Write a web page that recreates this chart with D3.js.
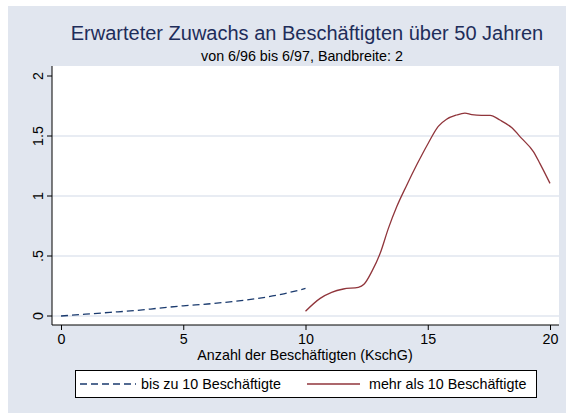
<!DOCTYPE html>
<html>
<head>
<meta charset="utf-8">
<script src="https://cdn.jsdelivr.net/npm/d3@7"></script>
<style>
  body { margin: 0; background: #fff; }
  text { font-family: "Liberation Sans", Arial, sans-serif; }
</style>
</head>
<body>
<svg id="chart"></svg>
<script>
// dashed series: up to 10 employees
const xLow = [0, 1, 2, 3, 4, 5, 6, 7, 8, 9, 10];
const yLow = [0, 0.015, 0.03, 0.045, 0.065, 0.085, 0.1, 0.12, 0.145, 0.18, 0.23];

// solid series: more than 10 employees
const xHigh = [10, 10.6, 11.07, 11.55, 12.16, 12.39, 12.71, 13.05, 13.39, 13.73, 14.14, 14.55,
  15.02, 15.43, 15.77, 16.18, 16.52, 16.8, 17.2, 17.55, 17.95, 18.43, 18.84, 19.32, 19.59, 20];
const yHigh = [0.04, 0.147, 0.197, 0.225, 0.239, 0.264, 0.37, 0.52, 0.73, 0.91, 1.09, 1.26,
  1.44, 1.58, 1.64, 1.675, 1.69, 1.678, 1.672, 1.672, 1.633, 1.57, 1.48, 1.37, 1.27, 1.105];

const xTicks = [0, 5, 10, 15, 20];
const yTicks = [0, 0.5, 1, 1.5, 2];
const yTickLabels = ["0", ".5", "1", "1.5", "2"];
const gridVals = [0, 0.5, 1, 1.5];

const seriesNames = ["bis zu 10 Beschäftigte", "mehr als 10 Beschäftigte"];
const titleText = "Erwarteter Zuwachs an Beschäftigten über 50 Jahren";
const subtitleText = "von 6/96 bis 6/97, Bandbreite: 2";
const xTitle = "Anzahl der Beschäftigten (KschG)";

const W = 566, H = 414;
const bg = "#e1e6ef";
const navy = "#1a3a6e";
const maroon = "#90353b";
const fs = 14.3;

const svg = d3.select("#chart").attr("width", W).attr("height", H);

// graph region
svg.append("rect").attr("x", 8).attr("y", 6).attr("width", W - 8).attr("height", H - 7)
  .attr("fill", bg);

const plotL = 52, plotR = 559, plotT = 66, plotB = 325;
svg.append("rect").attr("x", plotL).attr("y", plotT)
  .attr("width", plotR - plotL).attr("height", plotB - plotT).attr("fill", "#fff");

const x = d3.scaleLinear().domain([0, 20]).range([61, 550]);
const y = d3.scaleLinear().domain([0, 2]).range([316, 76]);

// grid
svg.append("g").selectAll("line").data(gridVals).join("line")
  .attr("x1", plotL).attr("x2", plotR)
  .attr("y1", d => y(d)).attr("y2", d => y(d))
  .attr("stroke", bg).attr("stroke-width", 1.5);

// axes
const yAxis = svg.append("g").attr("transform", `translate(${plotL},0)`)
  .call(d3.axisLeft(y).tickValues(yTicks).tickSize(5)
    .tickFormat((d, i) => yTickLabels[i]));
yAxis.select(".domain").attr("d", `M0,${plotT}V${plotB}`).attr("stroke", "#000");
yAxis.selectAll(".tick").attr("transform", null);
yAxis.selectAll(".tick line").attr("y1", d => y(d)).attr("y2", d => y(d));
yAxis.selectAll(".tick text")
  .attr("font-size", fs).attr("fill", "#000")
  .attr("text-anchor", "middle").attr("x", null).attr("y", null).attr("dy", null)
  .attr("transform", d => `translate(-9,${y(d)}) rotate(-90)`);

const xAxis = svg.append("g").attr("transform", `translate(0,${plotB})`)
  .call(d3.axisBottom(x).tickValues(xTicks).tickSize(5).tickPadding(4));
xAxis.select(".domain").attr("d", `M${plotL},0H${plotR}`).attr("stroke", "#000");
xAxis.selectAll("text").attr("font-size", fs).attr("fill", "#000");

// lines
const line = d3.line().x(d => x(d[0])).y(d => y(d[1])).curve(d3.curveMonotoneX);

svg.append("path").datum(d3.zip(xLow, yLow))
  .attr("d", line).attr("fill", "none").attr("stroke", navy)
  .attr("stroke-width", 1.3).attr("stroke-dasharray", "7,4");

svg.append("path").datum(d3.zip(xHigh, yHigh))
  .attr("d", line).attr("fill", "none").attr("stroke", maroon)
  .attr("stroke-width", 1.3);

// titles
svg.append("text").attr("x", 307).attr("y", 40).attr("text-anchor", "middle")
  .attr("font-size", 20).attr("fill", "#1e2d5a").text(titleText);
svg.append("text").attr("x", 302).attr("y", 61).attr("text-anchor", "middle")
  .attr("font-size", fs).attr("fill", "#000").text(subtitleText);
svg.append("text").attr("x", 305).attr("y", 360).attr("text-anchor", "middle")
  .attr("font-size", fs).attr("fill", "#000").text(xTitle);

// legend
const leg = svg.append("g");
leg.append("rect").attr("x", 75.5).attr("y", 370.5).attr("width", 461).attr("height", 27)
  .attr("fill", "#fff").attr("stroke", "#000");
const legItems = [
  { name: seriesNames[0], color: navy, dash: "7,4", x0: 80, x1: 136, tx: 141 },
  { name: seriesNames[1], color: maroon, dash: null, x0: 307, x1: 360, tx: 369 }
];
legItems.forEach(it => {
  leg.append("line").attr("x1", it.x0).attr("x2", it.x1).attr("y1", 384).attr("y2", 384)
    .attr("stroke", it.color).attr("stroke-width", 1.3).attr("stroke-dasharray", it.dash);
  leg.append("text").attr("x", it.tx).attr("y", 389).attr("font-size", fs)
    .attr("fill", "#000").text(it.name);
});
</script>
</body>
</html>
